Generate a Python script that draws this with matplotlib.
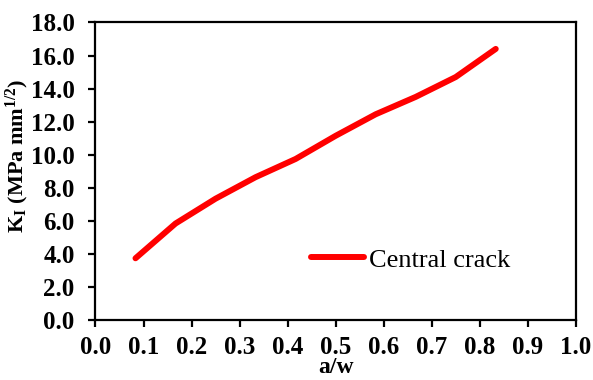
import matplotlib
matplotlib.use("Agg")
import matplotlib.pyplot as plt

# crack length ratio and stress intensity factor
a_w = [1/12, 2/12, 3/12, 4/12, 5/12, 6/12, 7/12, 8/12, 9/12, 10/12]
k_i = [3.75, 5.85, 7.35, 8.65, 9.75, 11.15, 12.45, 13.5, 14.7, 16.4]

x_ticks = [0.0, 0.1, 0.2, 0.3, 0.4, 0.5, 0.6, 0.7, 0.8, 0.9, 1.0]
y_ticks = [0, 2, 4, 6, 8, 10, 12, 14, 16, 18]

plt.rcParams["font.family"] = ["Liberation Serif", "DejaVu Serif"]
plt.rcParams["mathtext.fontset"] = "custom"
plt.rcParams["mathtext.rm"] = "Liberation Serif:bold"
plt.rcParams["mathtext.it"] = "Liberation Serif:bold"
plt.rcParams["mathtext.bf"] = "Liberation Serif:bold"

fig = plt.figure(figsize=(5.93, 3.80), dpi=100)
ax = fig.add_axes([0.161, 0.157, 0.810, 0.784])

ax.plot(a_w, k_i, color="#ff0000", lw=4.3, solid_capstyle="round",
        solid_joinstyle="round", label="Central crack")

ax.set_xlim(0, 1.0)
ax.set_ylim(0, 18)
ax.set_xticks(x_ticks)
ax.set_yticks(y_ticks)
ax.set_xticklabels(["%.1f" % v for v in x_ticks], fontsize=18, fontweight="bold")
ax.set_yticklabels(["%.1f" % v for v in y_ticks], fontsize=18, fontweight="bold")

for s in ax.spines.values():
    s.set_linewidth(1.6)
    s.set_color("black")
ax.tick_params(direction="out", length=5, width=1.6)
ax.tick_params(axis="x", pad=6)
ax.tick_params(axis="y", pad=10)

ax.set_xlabel("a/w", fontsize=17, fontweight="bold", labelpad=-1)
ax.set_ylabel(r"K$_\mathrm{I}$ (MPa mm$^\mathrm{1/2}$)", fontsize=16,
              fontweight="bold")
ax.yaxis.set_label_coords(-0.134, 0.552)

ax.legend(loc="center left", bbox_to_anchor=(0.449, 0.203), frameon=False,
          fontsize=19, handlelength=2.0, handletextpad=0.2, borderpad=0,
          borderaxespad=0)

fig.savefig("out.png", dpi=100)
